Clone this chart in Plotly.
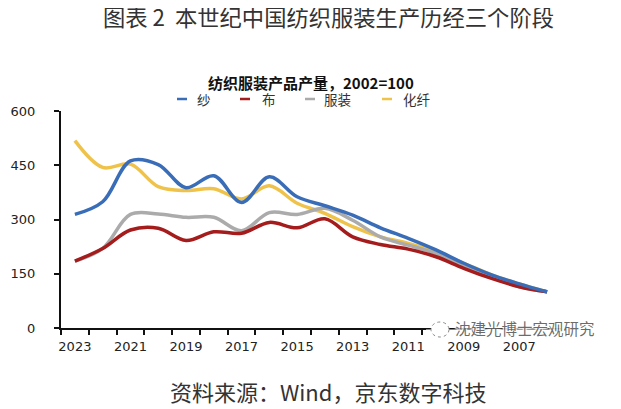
import plotly.graph_objects as go

years = list(range(2023, 2005, -1))
yarn = [314, 349, 462, 452, 388, 421, 347, 418, 363, 338, 312, 277, 248, 216, 179, 147, 122, 100]
cloth = [185, 220, 271, 276, 242, 266, 262, 292, 277, 302, 252, 231, 218, 197, 165, 137, 114, 100]
apparel = [185, 220, 314, 315, 306, 306, 269, 319, 314, 331, 298, 252, 229, 206, 170, 142, 114, 100]
fiber = [518, 444, 453, 391, 380, 385, 357, 393, 345, 317, 280, 252, 234, 211, 179, 147, 122, 100]

names = ["纱", "布", "服装", "化纤"]
series = [yarn, cloth, apparel, fiber]
colors = ["#3A6DB8", "#A51C1C", "#ABABAB", "#EFC24A"]
y_ticks = [0, 150, 300, 450, 600]
x_ticks = [2023, 2021, 2019, 2017, 2015, 2013, 2011, 2009, 2007]

CJK = "Noto Sans CJK SC"
LATIN = "DejaVu Sans"
PW, PH = 500, 217
L, T = 61, 111
def dx(px): return (px - L) / PW
def dy(py): return (T + PH - py) / PH

fig = go.Figure()
for name, vals, col in reversed(list(zip(names, series, colors))):
    fig.add_trace(go.Scatter(x=years, y=vals, name=name, mode="lines", showlegend=False,
                             line=dict(color=col, width=3.5, shape="spline", smoothing=1.0)))

# legend row
legend_line_x = [177, 240, 305, 382]
legend_text_x = [195, 260, 322, 401]
shapes = []
annotations = []
for name, col, lx, tx in zip(names, colors, legend_line_x, legend_text_x):
    shapes.append(dict(type="line", xref="x domain", yref="y domain", x0=dx(lx), x1=dx(lx + 10),
                       y0=dy(99), y1=dy(99), line=dict(color=col, width=2.5)))
    annotations.append(dict(text=name, xref="x domain", yref="y domain", x=dx(tx), y=dy(99),
                            xanchor="left", yanchor="middle", showarrow=False,
                            font=dict(family=CJK, size=13.5, color="#333333")))

# watermark: hides the ticks beneath it, leaves the axis line
shapes.append(dict(type="rect", xref="x domain", yref="y domain", x0=dx(426), x1=dx(600),
                   y0=dy(337), y1=dy(329.5), fillcolor="white", line=dict(width=0), layer="above"))
shapes.append(dict(type="circle", xref="x domain", yref="y domain", x0=dx(431), x1=dx(449),
                   y0=dy(337), y1=dy(322), fillcolor="white", layer="above",
                   line=dict(color="#8a8a8a", width=1, dash="dot")))

annotations += [
    dict(text="图表 2  本世纪中国纺织服装生产历经三个阶段", xref="x domain", yref="y domain",
         x=dx(328), y=dy(15.5), xanchor="center", yanchor="middle", showarrow=False,
         font=dict(family=CJK, size=22.3, color="#333333")),
    dict(text="<b>纺织服装产品产量，2002=100</b>", xref="x domain", yref="y domain",
         x=dx(311), y=dy(83), xanchor="center", yanchor="middle", showarrow=False,
         font=dict(family=CJK, size=15, color="#111111")),
    dict(text="资料来源：Wind，京东数字科技", xref="x domain", yref="y domain",
         x=dx(328), y=dy(391), xanchor="center", yanchor="middle", showarrow=False,
         font=dict(family=CJK, size=22, color="#333333")),
    dict(text="沈建光博士宏观研究", xref="x domain", yref="y domain",
         x=dx(597), y=dy(328), xanchor="right", yanchor="middle", showarrow=False,
         font=dict(family=CJK, size=15.5, color="rgba(80,80,80,0.85)",
                   shadow="1px 1px 1px white, -1px -1px 1px white, 1px -1px 1px white, -1px 1px 1px white")),
]

fig.update_layout(
    width=613, height=401, autosize=False,
    margin=dict(l=L - 8, r=60, t=T - 8, b=81, autoexpand=False),
    paper_bgcolor="white", plot_bgcolor="white",
    showlegend=False,
    shapes=shapes, annotations=annotations,
    xaxis=dict(range=[2023.5, 2005.5], tickmode="array", tickvals=x_ticks, automargin=False,
               ticktext=[str(v) for v in x_ticks], ticks="outside", ticklen=5,
               tickcolor="rgba(0,0,0,0)", showgrid=False, zeroline=False,
               showline=True, linecolor="#111111", linewidth=2,
               tickfont=dict(family=LATIN, size=13, color="#222222"),
               minor=dict(tickmode="linear", tick0=0.5, dtick=1, ticks="outside",
                          ticklen=5, tickwidth=1.5, tickcolor="#111111", showgrid=False)),
    yaxis=dict(range=[0, 600], tickmode="array", tickvals=y_ticks, ticks="outside", automargin=False,
               ticklen=5, tickwidth=1.5, tickcolor="#111111", showgrid=False,
               zeroline=False, showline=True, linecolor="#111111", linewidth=2,
               ticklabelstandoff=16,
               tickfont=dict(family=LATIN, size=13, color="#222222")),
)
fig.write_html("out.html")
